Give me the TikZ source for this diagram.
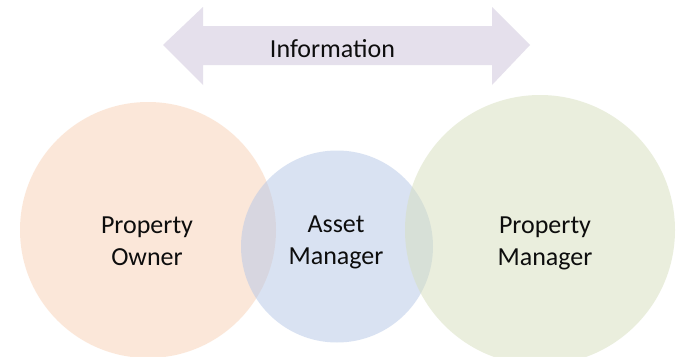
\documentclass[tikz,border=0pt]{standalone}
\usepackage{fontspec}
\setmainfont{Carlito}
\definecolor{arrowfill}{HTML}{E5E0EC}
\definecolor{ownerfill}{HTML}{F9D1B5}
\definecolor{assetfill}{HTML}{B5C7E7}
\definecolor{pmfill}{HTML}{D7DFBD}
\definecolor{labeltext}{HTML}{0D0D0D}
\tikzset{
  party/.style={circle, inner sep=0pt, draw=none, fill opacity=0.5},
  partylabel/.style={align=center, anchor=base, inner sep=0pt, text=labeltext,
    font=\fontsize{26}{32}\selectfont},
}
\begin{document}
\begin{tikzpicture}[x=1pt, y=-1pt]
  \useasboundingbox (0,0) rectangle (677,356);
  \clip (0,0) rectangle (677,356);
  \fill[white] (0,0) rectangle (677,356);

  % two-headed information arrow
  \fill[arrowfill] (163,45) -- (203,7) -- (203,26) -- (492,26) -- (492,7)
    -- (530,45) -- (492,85) -- (492,65) -- (203,65) -- (203,85) -- cycle;
  \node[partylabel] (info) at (332.5,57) {Information};

  % the three parties
  \node[party, fill=ownerfill, minimum size=256pt] (owner) at (148,230) {};
  \node[party, fill=assetfill, minimum size=192pt] (asset) at (337,246.5) {};
  \node[party, fill=pmfill, minimum size=270pt] (pm) at (540,230) {};

  % labels (base anchor sits on the last line)
  \node[partylabel] (ownerlabel) at (147,265) {Property\\Owner};
  \node[partylabel] (assetlabel) at (336,264) {Asset\\Manager};
  \node[partylabel] (pmlabel) at (545,265) {Property\\Manager};
\end{tikzpicture}
\end{document}
